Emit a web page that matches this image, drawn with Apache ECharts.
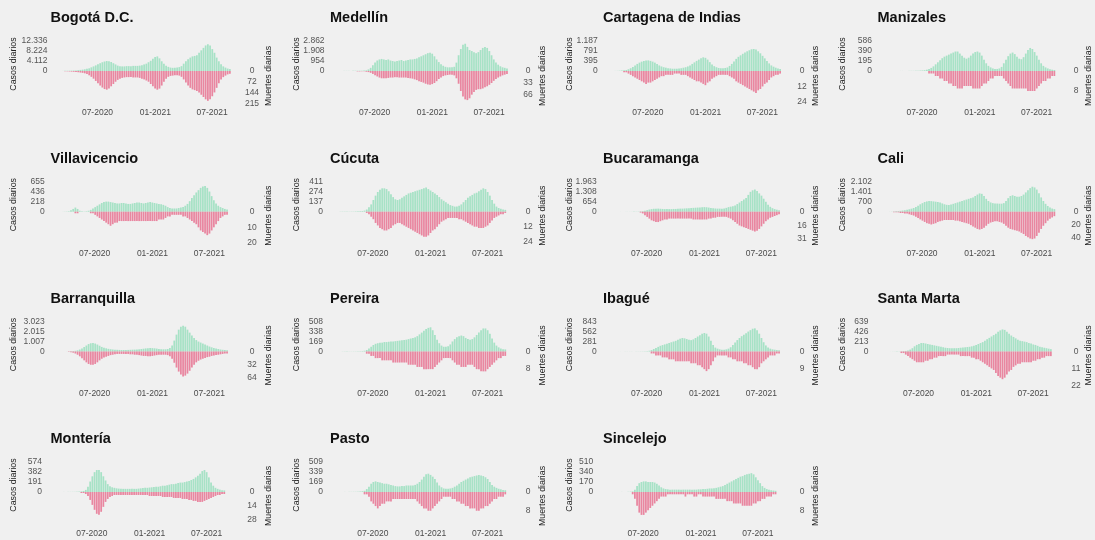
<!DOCTYPE html>
<html><head><meta charset="utf-8">
<script src="https://cdn.jsdelivr.net/npm/echarts@6/dist/echarts.min.js"></script>
<style>html,body{margin:0;padding:0;background:#f0f0f0}#c{width:1095px;height:540px}</style>
</head><body><div id="c"></div>
<script>
// weekly bins: bin i covers days 7i..7i+6 counted from weekStart (values = typical daily level that week)
const weekStart = '2020-03-02';
const xTickDates = ['2020-07-01', '2021-01-01', '2021-07-01'];
const xTickLabels = ['07-2020', '01-2021', '07-2021'];

const cities = ['Bogotá D.C.', 'Medellín', 'Cartagena de Indias', 'Manizales', 'Villavicencio', 'Cúcuta', 'Bucaramanga', 'Cali', 'Barranquilla', 'Pereira', 'Ibagué', 'Santa Marta', 'Montería', 'Pasto', 'Sincelejo'];

const casesBogota = [5,20,60,100,120,150,180,250,350,450,550,700,900,1100,1500,1900,2300,2800,3200,3600,3900,4100,4000,3700,3200,2700,2200,2000,1900,1900,2000,2000,2000,2100,2100,2100,2200,2400,2700,3000,3600,4200,5000,5800,6000,5200,4000,3000,2200,1700,1400,1300,1300,1400,1600,2000,3000,4000,4800,5500,6000,6200,6500,7500,8500,9500,10500,11000,10500,9000,7500,5500,4000,2800,1900,1400,1000,800];
const deathsBogota = [0,0,1,2,3,4,5,6,8,10,12,15,20,28,38,50,65,80,95,108,118,122,115,100,85,70,58,50,45,42,40,40,40,42,42,42,45,50,55,62,70,85,100,115,122,115,95,70,50,38,32,30,28,28,30,38,55,75,95,110,120,125,130,140,155,170,185,195,185,165,140,110,80,55,40,30,22,18];
const casesMedellin = [0,2,5,10,10,10,10,15,20,20,25,30,40,60,150,300,550,800,1000,1100,1150,1100,1050,1100,1000,950,900,950,1000,1050,950,1000,1050,1100,1100,1150,1200,1300,1400,1500,1600,1700,1750,1650,1400,1100,850,650,500,400,350,350,350,400,800,1500,2100,2500,2600,2300,2000,1900,1800,1700,1800,2000,2200,2300,2200,1900,1500,1100,800,600,450,350,300,250];
const deathsMedellin = [0,0,0,0,0,0,0,0,0,1,1,1,1,2,3,5,8,12,15,18,20,20,20,19,18,18,17,17,18,18,18,18,19,20,21,23,25,28,30,32,35,37,38,36,33,28,22,18,14,12,11,10,10,12,20,35,55,70,78,80,75,65,58,52,50,50,48,45,42,38,33,27,22,18,15,12,10,8];
const casesCartagena = [0,2,3,5,10,15,25,40,70,110,160,220,280,330,370,400,420,420,400,370,330,280,220,180,150,130,110,100,90,90,90,100,110,130,150,180,220,280,340,400,450,500,540,520,450,350,260,190,150,120,110,110,120,140,200,280,380,480,560,620,680,730,780,820,860,870,850,780,700,600,500,400,300,220,170,130,100,80];
const deathsCartagena = [0,0,0,0,0,0,1,1,2,3,4,5,6,7,8,9,10,9,9,8,7,6,5,4,4,3,3,3,3,2,2,2,3,3,3,4,5,6,7,8,8,9,10,11,9,8,6,5,4,3,3,3,3,3,4,5,6,8,9,10,11,12,13,14,15,16,17,15,14,12,10,9,7,5,4,3,3,2];
const casesManizales = [0,0,0,0,0,0,0,1,1,2,1,2,3,3,5,5,8,10,15,25,40,60,90,130,170,210,250,280,300,320,340,360,380,380,340,300,260,240,260,300,340,370,380,360,300,220,150,100,70,50,40,40,50,80,150,220,290,340,360,330,280,240,230,270,340,410,450,430,370,300,220,150,100,70,50,35,25,20];
const deathsManizales = [0,0,0,0,0,0,0,0,0,0,0,0,0,0,0,0,0,0,0,0,1,1,1,2,2,3,3,4,4,5,5,6,6,7,7,7,6,6,6,6,7,7,7,7,6,5,5,4,3,3,2,2,2,2,3,4,5,6,7,7,7,7,7,7,7,8,8,8,8,7,6,5,4,4,3,3,2,2];
const casesVillavicencio = [0,0,1,3,5,10,30,60,90,60,20,10,5,10,20,40,70,100,130,160,190,210,220,220,210,200,190,180,180,190,190,180,170,170,180,190,200,200,190,180,190,200,210,200,190,180,170,160,150,130,100,80,70,70,70,80,90,100,130,170,230,300,360,420,470,520,550,560,520,440,340,250,180,130,100,80,60,50];
const deathsVillavicencio = [0,0,0,0,0,0,0,0,1,1,0,0,0,0,0,1,1,2,3,4,5,6,7,8,9,8,7,7,6,6,6,6,6,6,6,6,6,6,6,6,6,6,6,6,6,6,5,5,5,4,3,3,2,2,2,2,2,3,3,4,5,6,7,8,10,12,13,14,15,14,12,10,8,6,4,3,2,2];
const casesCucuta = [0,0,2,3,3,2,2,3,3,5,5,8,10,15,30,60,100,160,220,270,300,320,320,310,280,240,200,170,160,170,190,210,230,250,260,270,280,290,300,310,320,330,310,290,270,250,230,200,170,150,130,110,90,80,70,70,80,100,130,160,190,210,230,250,260,280,300,320,310,270,220,160,110,70,50,40,30,25];
const deathsCucuta = [0,0,0,0,0,0,0,0,0,0,0,0,0,0,1,2,4,6,9,11,13,14,15,15,14,13,11,10,9,9,10,11,12,13,14,15,16,17,18,19,20,20,19,17,15,14,12,10,8,7,6,5,5,5,5,5,6,6,7,8,9,10,11,12,12,13,13,13,12,11,9,7,5,4,3,2,2,1];
const casesBucaramanga = [0,0,0,1,2,3,3,3,5,5,5,8,10,15,20,30,60,100,140,170,190,200,200,190,180,170,170,170,170,180,180,190,200,200,210,220,230,240,250,260,270,280,290,300,290,270,250,230,210,200,200,200,210,250,300,330,360,400,500,600,700,800,900,1100,1300,1400,1450,1350,1200,1050,850,650,450,320,230,170,130,100];
const deathsBucaramanga = [0,0,0,0,0,0,0,0,0,0,0,0,0,0,1,2,4,6,8,10,11,12,12,11,10,9,9,8,8,8,8,8,8,8,8,8,8,8,9,9,9,9,9,9,9,8,8,7,7,6,6,6,6,6,7,8,10,12,14,16,17,18,19,20,21,22,23,22,20,17,14,11,9,7,6,5,4,3];
const casesCali = [0,0,5,10,20,30,40,60,80,100,130,170,210,260,330,420,520,600,680,720,750,740,720,700,680,640,580,520,480,470,500,550,600,650,700,750,800,850,900,950,1000,1100,1200,1280,1250,1100,900,750,650,600,580,570,560,560,600,750,950,1100,1150,1100,1050,1050,1100,1200,1350,1500,1650,1750,1700,1550,1300,1000,750,550,400,300,220,180];
const deathsCali = [0,0,0,0,1,1,1,2,2,3,3,4,5,6,8,10,12,14,16,18,19,20,19,18,16,15,14,13,13,13,13,13,14,14,15,16,17,18,19,21,23,25,27,28,27,25,22,19,17,16,15,15,16,17,19,22,25,27,28,29,30,31,33,35,38,40,42,43,42,38,33,27,22,18,14,11,9,7];
const casesBarranquilla = [0,0,0,2,5,10,20,40,70,120,200,300,450,600,750,830,850,800,700,580,460,380,320,270,230,200,180,170,160,150,150,150,160,170,180,190,200,220,250,280,310,340,350,340,320,290,260,230,220,220,250,350,600,1100,1700,2200,2500,2600,2500,2200,1900,1600,1350,1150,1000,900,800,700,600,500,420,350,300,250,200,170,150,130];
const deathsBarranquilla = [0,0,0,0,0,1,2,3,5,8,12,17,22,27,31,33,33,31,27,22,18,15,13,11,9,8,7,6,6,6,6,6,6,7,7,8,8,9,10,11,11,12,12,11,10,9,8,8,8,8,9,12,18,28,40,50,57,62,60,55,48,40,33,27,23,20,18,16,14,13,11,10,9,8,7,6,5,5];
const casesPereira = [0,0,0,2,3,3,2,2,3,3,5,5,8,12,25,50,80,110,130,140,150,150,160,160,165,170,170,175,180,185,190,195,200,210,220,230,240,260,290,320,350,380,400,410,360,280,200,140,100,80,80,90,120,170,210,240,260,270,260,230,210,200,210,240,280,320,360,390,390,360,300,220,150,100,70,50,40,35];
const deathsPereira = [0,0,0,0,0,0,0,0,0,0,0,0,0,0,1,1,2,2,3,3,3,4,4,4,4,4,5,5,5,5,5,5,5,6,6,6,6,7,7,7,8,8,8,8,8,7,6,5,4,3,3,3,3,4,5,6,6,7,7,7,6,6,6,7,8,8,9,9,9,8,7,6,5,4,3,3,2,2];
const casesIbague = [0,0,0,0,1,1,2,2,2,2,2,3,3,3,5,5,8,10,20,40,70,100,130,160,180,200,220,240,260,280,300,330,360,380,370,350,330,320,340,380,420,460,500,520,500,420,300,180,110,80,60,50,50,60,80,120,180,250,320,380,430,470,510,560,600,640,650,600,500,380,260,170,110,80,60,50,40,35];
const deathsIbague = [0,0,0,0,0,0,0,0,0,0,0,0,0,0,0,0,0,0,0,1,1,2,2,2,3,3,3,4,4,4,5,5,5,5,5,5,5,6,6,6,7,7,8,9,10,9,7,5,3,2,2,2,2,2,3,3,4,4,5,5,5,6,6,7,7,8,9,9,8,6,5,4,3,2,2,2,1,1];
const casesSantaMarta = [0,0,0,0,1,2,2,3,3,5,8,12,20,40,70,110,140,160,180,180,170,160,150,140,130,120,110,100,90,80,75,70,70,70,70,75,80,85,90,95,100,110,120,140,160,180,200,230,260,290,320,350,380,420,450,470,460,420,380,340,310,280,250,230,220,210,200,180,170,150,140,120,100,90,80,70,60,50];
const deathsSantaMarta = [0,0,0,0,0,0,0,0,0,1,1,2,3,4,5,6,7,7,7,7,6,6,5,5,4,4,3,3,3,3,2,2,2,2,2,2,3,3,3,3,3,4,4,5,5,6,7,8,9,10,11,12,14,16,17,18,17,15,13,12,10,9,8,8,7,7,7,7,7,6,6,5,5,4,4,3,3,3];
const casesMonteria = [0,0,0,0,1,1,2,2,3,3,5,8,12,20,40,100,200,300,380,420,420,380,300,220,150,110,90,80,70,65,60,60,60,60,60,60,60,60,65,70,75,80,80,85,90,95,100,100,110,120,120,130,140,150,150,160,170,180,180,190,200,210,230,250,280,310,350,400,420,380,280,180,120,80,60,45,35,30];
const deathsMonteria = [0,0,0,0,0,0,0,0,0,0,0,0,1,1,2,4,8,13,18,22,23,20,15,10,7,5,4,3,3,3,3,3,3,3,3,3,3,3,3,3,3,3,3,4,4,4,4,4,4,5,5,5,5,5,6,6,6,6,7,7,7,8,8,9,9,10,10,10,9,8,7,6,5,4,3,3,2,2];
const casesPasto = [0,0,0,0,1,1,2,2,3,3,5,8,12,20,50,90,140,170,180,170,160,150,140,140,130,120,110,100,95,95,100,100,110,110,110,110,120,140,170,210,260,300,310,290,260,220,160,110,80,60,55,55,60,70,90,110,140,170,190,210,230,250,260,270,280,290,280,270,250,220,170,120,90,70,55,45,35,30];
const deathsPasto = [0,0,0,0,0,0,0,0,0,0,0,0,0,1,1,2,4,5,6,7,6,5,5,4,4,4,3,3,3,3,3,3,3,3,3,3,3,4,5,6,7,7,8,8,7,6,5,4,3,2,2,2,2,3,3,4,4,5,5,6,6,7,7,7,8,8,7,7,6,6,5,4,3,3,2,2,2,1];
const casesSincelejo = [0,0,0,0,0,0,0,1,1,2,3,5,10,40,100,150,170,180,180,170,170,170,160,140,110,80,60,50,45,40,40,40,40,40,40,40,40,40,40,40,40,40,45,45,50,50,55,60,60,65,70,80,90,100,120,140,160,180,200,220,240,260,270,290,300,310,320,300,250,200,150,100,70,50,40,30,25,20];
const deathsSincelejo = [0,0,0,0,0,0,0,0,0,0,0,0,1,3,6,9,10,10,9,8,7,6,5,4,3,2,2,2,1,1,1,1,1,1,1,1,2,1,1,1,2,2,1,1,2,2,2,2,2,2,3,3,3,3,3,4,4,4,5,5,5,5,6,6,6,6,6,5,5,4,4,3,3,2,2,2,1,1];

const casesSeries = [casesBogota, casesMedellin, casesCartagena, casesManizales, casesVillavicencio, casesCucuta, casesBucaramanga, casesCali, casesBarranquilla, casesPereira, casesIbague, casesSantaMarta, casesMonteria, casesPasto, casesSincelejo];
const deathsSeries = [deathsBogota, deathsMedellin, deathsCartagena, deathsManizales, deathsVillavicencio, deathsCucuta, deathsBucaramanga, deathsCali, deathsBarranquilla, deathsPereira, deathsIbague, deathsSantaMarta, deathsMonteria, deathsPasto, deathsSincelejo];

// tick labels
const casesTicks = [[4112,8224,12336],[954,1908,2862],[395,791,1187],[195,390,586],[218,436,655],[137,274,411],[654,1308,1963],[700,1401,2102],[1007,2015,3023],[169,338,508],[281,562,843],[213,426,639],[191,382,574],[169,339,509],[170,340,510]];
const deathTicks = [[72,144,215],[33,66],[12,24],[8],[10,20],[12,24],[16,31],[20,40],[32,64],[8],[9],[11,22],[14,28],[8],[8]];
// deaths value drawn at the same depth as the top case tick height
const deathScale = [196,82.5,23.3,12,19.2,24,34.8,47,74.7,13.6,15.3,19.5,30.3,12.8,13.1];

// ---- layout (px) ----
const PXDAY = 0.314;
const panelX07 = [97.5,374.6,647.8,922, 94.7,372.9,646.7,922, 94.7,372.9,646.7,918.5, 91.9,372.9,643.2];
const colTitleX = [50.5,330,603,877.5];
const colCasosX = [13.3,296.4,569.5,843];
const colMuertesX = [268.5,543,816,1089];
const colDeathLabelX = [252,528,802,1076];
const rowZeroY = [71,211.7,351.5,492];
const UP = 30, DOWN = 35;

const FONT = '"Liberation Sans", Arial, Helvetica, sans-serif';
const GREEN = 'rgba(150,222,188,0.82)', PINK = 'rgba(230,110,142,0.82)';

const dayIdx = s => (Date.UTC(+s.slice(0,4), +s.slice(5,7)-1, +s.slice(8,10)) - Date.UTC(+weekStart.slice(0,4), +weekStart.slice(5,7)-1, +weekStart.slice(8,10))) / 864e5;
const fmt = n => String(n).replace(/\B(?=(\d{3})+(?!\d))/g, '.');
const xTickDays = xTickDates.map(dayIdx);
const d07 = xTickDays[0];

const grids = [], xAxes = [], yAxes = [], series = [], graphics = [];
cities.forEach((name, p) => {
  const col = p % 4, row = Math.floor(p / 4);
  const x07 = panelX07[p], zero = rowZeroY[row];
  const left = x07 - 45, right = x07 + 140;
  grids.push({left: left, top: zero - UP, width: right - left, height: UP + DOWN});
  xAxes.push({
    type: 'value', gridIndex: p,
    min: d07 - 45 / PXDAY, max: d07 + 140 / PXDAY,
    axisLine: {show: false, onZero: false}, axisTick: {show: false}, splitLine: {show: false},
    axisLabel: {customValues: xTickDays, margin: 2.5, fontSize: 8.5, color: '#4a4a4a', fontFamily: FONT,
      formatter: v => xTickLabels[xTickDays.indexOf(Math.round(v))] || ''}
  });
  const cmax = casesTicks[p][casesTicks[p].length - 1];
  yAxes.push({
    type: 'value', gridIndex: p, position: 'left',
    min: -cmax * DOWN / UP, max: cmax,
    axisLine: {show: false}, axisTick: {show: false}, splitLine: {show: false},
    axisLabel: {customValues: [0].concat(casesTicks[p]), margin: 5, fontSize: 8.5, color: '#555', fontFamily: FONT, formatter: v => fmt(v)}
  });
  const ds = deathScale[p];
  yAxes.push({
    type: 'value', gridIndex: p, position: 'right',
    min: -ds * DOWN / UP, max: ds,
    axisLine: {show: false}, axisTick: {show: false}, splitLine: {show: false},
    axisLabel: {customValues: [0].concat(deathTicks[p].map(v => -v)), margin: colDeathLabelX[col] - right, align: 'center',
      fontSize: 8.5, color: '#555', fontFamily: FONT, formatter: v => fmt(Math.abs(v))}
  });
  series.push({
    type: 'bar', xAxisIndex: p, yAxisIndex: 2 * p, barWidth: 7 * PXDAY - 0.45, barGap: '-100%',
    itemStyle: {color: GREEN}, silent: true, clip: false,
    data: casesSeries[p].map((v, i) => [7 * i + 3.5, v])
  });
  series.push({
    type: 'bar', xAxisIndex: p, yAxisIndex: 2 * p + 1, barWidth: 7 * PXDAY - 0.45, barGap: '-100%',
    itemStyle: {color: PINK}, silent: true, clip: false,
    data: deathsSeries[p].map((v, i) => [7 * i + 3.5, -v])
  });
  graphics.push({type: 'text', x: colTitleX[col], y: zero - 53, style: {text: name, font: 'bold 14.5px ' + FONT, fill: '#111', align: 'left', verticalAlign: 'middle'}});
  graphics.push({type: 'text', x: colCasosX[col], y: zero - 7, rotation: Math.PI / 2, style: {text: 'Casos diarios', font: '8.8px ' + FONT, fill: '#222', align: 'center', verticalAlign: 'middle'}});
  graphics.push({type: 'text', x: colMuertesX[col], y: zero + (row === 0 ? 5 : 4), rotation: Math.PI / 2, style: {text: 'Muertes diarias', font: '8.8px ' + FONT, fill: '#222', align: 'center', verticalAlign: 'middle'}});
});

const chart = echarts.init(document.getElementById('c'), null, {renderer: 'canvas'});
chart.setOption({
  backgroundColor: '#f0f0f0', animation: false,
  grid: grids, xAxis: xAxes, yAxis: yAxes, series: series, graphic: graphics
});
</script></body></html>
